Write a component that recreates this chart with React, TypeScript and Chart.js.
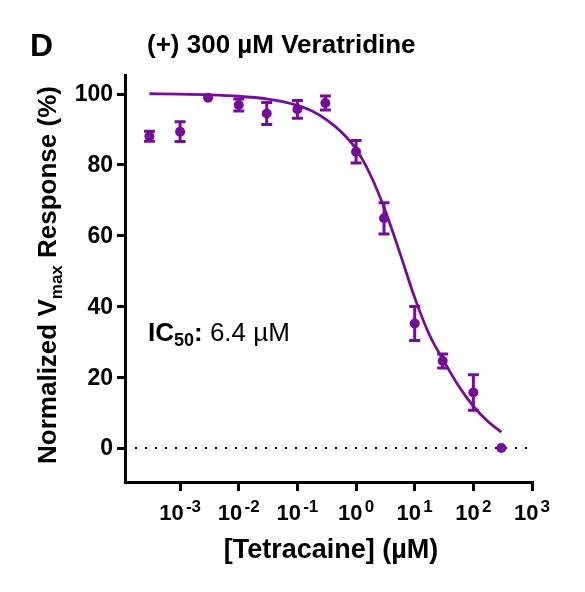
import React, { useEffect, useRef } from "react";
import { Chart, registerables } from "chart.js";

Chart.register(...registerables);

// ---- data ----
const concentrations = [3e-4, 1e-3, 3e-3, 1e-2, 3e-2, 0.1, 0.3, 1, 3, 10, 30, 100, 300];
const responses = [88.1, 89.4, 99.0, 96.9, 94.5, 95.7, 97.5, 83.7, 64.9, 35.2, 24.6, 15.7, 0];
const errors = [1.4, 2.8, 0, 1.7, 3.1, 2.5, 2.0, 3.2, 4.4, 4.8, 2.0, 5.0, 0];

const fitX = [3e-4, 1e-3, 3.16e-3, 1e-2, 3.16e-2, 5.62e-2, 0.1, 0.178, 0.316, 0.562, 1, 1.78, 3.16, 5.62, 10, 17.8, 31.6, 56.2, 100, 178, 300];
const fitY = [100.1, 100, 99.8, 99.4, 98.6, 97.9, 96.8, 95.2, 92.7, 89.3, 84.5, 77, 67, 55, 42.5, 32, 24.5, 17.5, 11.8, 7.5, 4.5];

const yTickValues = [0, 20, 40, 60, 80, 100];
const xTickExponents = [-3, -2, -1, 0, 1, 2, 3];

const X_MIN = 1.15e-4;
const X_MAX = 1000;
const Y_MIN = -9.6;
const Y_MAX = 105.4;

const PURPLE = "#740d97";
const FONT = "'Liberation Sans', Arial, Helvetica, sans-serif";

const errorBarPlugin = {
  id: "errorBars",
  afterDatasetsDraw(chart: any) {
    const ctx = chart.ctx;
    const xs = chart.scales.x;
    const ys = chart.scales.y;
    ctx.save();
    ctx.strokeStyle = PURPLE;
    ctx.lineWidth = 3;
    concentrations.forEach((c, i) => {
      const e = errors[i];
      if (!e) return;
      const px = xs.getPixelForValue(c);
      const top = ys.getPixelForValue(responses[i] + e);
      const bot = ys.getPixelForValue(responses[i] - e);
      ctx.beginPath();
      ctx.moveTo(px, top);
      ctx.lineTo(px, bot);
      ctx.moveTo(px - 5.5, top);
      ctx.lineTo(px + 5.5, top);
      ctx.moveTo(px - 5.5, bot);
      ctx.lineTo(px + 5.5, bot);
      ctx.stroke();
    });
    ctx.restore();
  },
};

function drawParts(ctx: any, parts: [string, string, number][], startX: number, baseY: number) {
  let x = startX;
  parts.forEach(([t, f, dy]) => {
    ctx.font = f;
    ctx.fillText(t, x, baseY + dy);
    x += ctx.measureText(t).width;
  });
}
function partsWidth(ctx: any, parts: [string, string, number][]) {
  let w = 0;
  parts.forEach(([t, f]) => {
    ctx.font = f;
    w += ctx.measureText(t).width;
  });
  return w;
}

const textPlugin = {
  id: "texts",
  afterDraw(chart: any) {
    const ctx = chart.ctx;
    const xs = chart.scales.x;
    const ys = chart.scales.y;
    ctx.save();
    ctx.fillStyle = "#000";
    ctx.textAlign = "left";
    ctx.textBaseline = "alphabetic";

    // panel letter and title
    ctx.font = `bold 32px ${FONT}`;
    ctx.fillText("D", 30, 56);
    ctx.font = `bold 26px ${FONT}`;
    ctx.fillText("(+) 300 \u00B5M Veratridine", 147, 53);

    // y tick labels
    ctx.font = `bold 23px ${FONT}`;
    ctx.textAlign = "right";
    ctx.textBaseline = "middle";
    yTickValues.forEach((v) => {
      ctx.fillText(String(v), xs.left - 12, ys.getPixelForValue(v) + 1);
    });

    // x tick labels with superscripts
    ctx.textAlign = "left";
    ctx.textBaseline = "alphabetic";
    xTickExponents.forEach((e) => {
      const px = xs.getPixelForValue(Math.pow(10, e));
      const parts: [string, string, number][] = [
        ["10", `bold 22px ${FONT}`, 0],
        [" ", `bold 8px ${FONT}`, 0],
        [e < 0 ? "-" + Math.abs(e) : String(e), `bold 17px ${FONT}`, -8],
      ];
      const w = partsWidth(ctx, parts);
      drawParts(ctx, parts, px - w / 2, 520);
    });

    // x axis title
    ctx.font = `bold 27px ${FONT}`;
    ctx.textAlign = "center";
    ctx.fillText("[Tetracaine] (\u00B5M)", 331, 558);

    // y axis title (rotated, with subscript)
    ctx.save();
    ctx.translate(47, 275);
    ctx.rotate(-Math.PI / 2);
    ctx.textAlign = "left";
    const yParts: [string, string, number][] = [
      ["Normalized V", `bold 26px ${FONT}`, 0],
      ["max", `bold 17px ${FONT}`, 6],
      [" Response (%)", `bold 26px ${FONT}`, 0],
    ];
    const yw = partsWidth(ctx, yParts);
    drawParts(ctx, yParts, -yw / 2, 9);
    ctx.restore();

    // IC50 annotation
    ctx.textAlign = "left";
    const icParts: [string, string, number][] = [
      ["IC", `bold 26px ${FONT}`, 0],
      ["50", `bold 18px ${FONT}`, 5],
      [":", `bold 26px ${FONT}`, 0],
      [" 6.4 \u00B5M", `26px ${FONT}`, 0],
    ];
    drawParts(ctx, icParts, 148, 341);

    ctx.restore();
  },
};

export default function App() {
  const ref = useRef<HTMLCanvasElement | null>(null);

  useEffect(() => {
    if (!ref.current) return;
    const chart = new Chart(ref.current, {
      type: "line",
      data: {
        datasets: [
          {
            label: "baseline",
            data: [
              { x: X_MIN, y: 0 },
              { x: X_MAX, y: 0 },
            ],
            borderColor: "#000",
            borderWidth: 2,
            borderDash: [2, 8],
            pointRadius: 0,
            fill: false,
            order: 3,
          },
          {
            label: "fit",
            data: fitX.map((x, i) => ({ x, y: fitY[i] })),
            borderColor: PURPLE,
            borderWidth: 2.8,
            pointRadius: 0,
            cubicInterpolationMode: "monotone",
            fill: false,
            order: 2,
          },
          {
            label: "data",
            data: concentrations.map((x, i) => ({ x, y: responses[i] })),
            showLine: false,
            pointRadius: 5,
            pointBackgroundColor: PURPLE,
            pointBorderColor: PURPLE,
            pointBorderWidth: 0,
            order: 1,
          },
        ],
      },
      options: {
        responsive: false,
        animation: false,
        maintainAspectRatio: false,
        layout: { padding: { left: 115, right: 53, top: 75, bottom: 100 } },
        plugins: {
          legend: { display: false },
          tooltip: { enabled: false },
          title: { display: false },
        },
        scales: {
          x: {
            type: "logarithmic",
            min: X_MIN,
            max: X_MAX,
            afterBuildTicks: (scale: any) => {
              scale.ticks = xTickExponents.map((e) => ({ value: Math.pow(10, e) }));
            },
            afterFit: (scale: any) => {
              scale.height = 10;
            },
            ticks: { display: false },
            grid: {
              display: true,
              drawOnChartArea: false,
              drawTicks: true,
              tickLength: 9,
              lineWidth: 3,
              color: "#000",
            },
            border: { display: true, width: 3, color: "#000" },
          },
          y: {
            type: "linear",
            min: Y_MIN,
            max: Y_MAX,
            afterBuildTicks: (scale: any) => {
              scale.ticks = yTickValues.map((v) => ({ value: v }));
            },
            afterFit: (scale: any) => {
              scale.width = 10;
            },
            ticks: { display: false },
            grid: {
              display: true,
              drawOnChartArea: false,
              drawTicks: true,
              tickLength: 8,
              lineWidth: 3,
              color: "#000",
            },
            border: { display: true, width: 3, color: "#000" },
          },
        },
      },
      plugins: [errorBarPlugin, textPlugin],
    } as any);
    return () => chart.destroy();
  }, []);

  return (
    <div style={{ position: "absolute", left: 0, top: 0, width: 585, height: 592, background: "#fff" }}>
      <canvas ref={ref} width={585} height={592} style={{ width: 585, height: 592 }} />
    </div>
  );
}
